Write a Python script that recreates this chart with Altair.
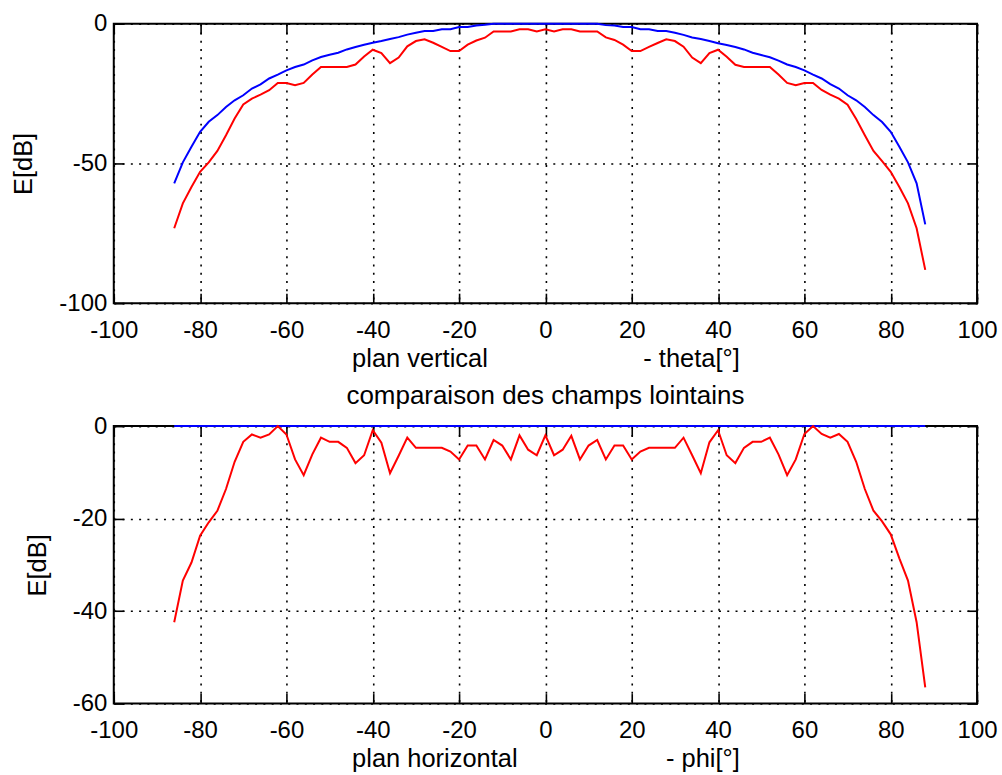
import altair as alt
import pandas as pd

# angles (degrees), sampled every 2 degrees
angles = list(range(-86, 89, 2))

# upper panel: vertical plane - theta
vert_blue = [
    -57.1, -49.6, -44.0, -38.7, -35.1, -32.7, -29.8, -27.4, -25.6, -23.2,
    -21.7, -19.6, -18.2, -16.7, -15.5, -14.6, -13.1, -11.9, -11.1, -10.4,
    -9.2, -8.3, -7.5, -6.8, -6.2, -5.5, -4.8, -3.9, -3.2, -2.6,
    -2.6, -2.0, -2.0, -1.2, -1.2, -0.6, -0.4, 0.0, 0.0, 0.0,
    0.0, 0.0, 0.0, 0.0, 0.0, 0.0, 0.0, 0.0, 0.0, 0.0,
    -0.5, -0.6, -1.2, -1.2, -2.0, -2.0, -2.6, -2.6, -3.2, -4.0,
    -4.9, -5.5, -6.2, -7.0, -7.6, -8.3, -9.2, -10.4, -11.2, -12.0,
    -13.2, -14.6, -15.5, -16.7, -18.2, -19.6, -21.6, -23.2, -25.6, -27.4,
    -29.8, -32.7, -35.2, -38.7, -44.0, -49.6, -57.1, -71.8,
]
vert_red = [
    -73.2, -64.3, -58.4, -53.0, -49.6, -45.5, -39.9, -33.9, -28.9, -26.8,
    -25.4, -23.8, -21.2, -21.2, -22.0, -21.2, -18.2, -15.5, -15.5, -15.5,
    -15.5, -14.6, -11.7, -9.3, -10.5, -14.1, -12.1, -8.1, -6.2, -5.6,
    -6.8, -8.3, -9.8, -9.8, -7.5, -6.0, -5.0, -2.75, -2.75, -2.75,
    -2.0, -2.0, -2.75, -2.0, -2.75, -2.0, -2.0, -2.75, -2.75, -2.75,
    -4.9, -5.8, -7.5, -9.8, -9.8, -8.3, -6.9, -5.6, -6.2, -8.2,
    -12.1, -14.1, -10.5, -9.3, -11.8, -14.7, -15.5, -15.5, -15.5, -15.5,
    -18.2, -21.2, -22.0, -21.2, -21.2, -23.7, -25.4, -26.8, -29.0, -34.1,
    -39.9, -45.5, -49.2, -53.0, -58.4, -64.3, -73.2, -88.1,
]

# lower panel: horizontal plane - phi
horiz_blue = [0.0] * 88
horiz_red = [
    -42.4, -33.4, -29.5, -23.7, -20.8, -18.3, -13.6, -7.7, -3.4, -1.8,
    -2.5, -1.8, 0.0, -1.8, -7.2, -10.6, -6.1, -2.5, -3.4, -3.4,
    -4.7, -8.0, -6.3, -0.9, -3.6, -10.2, -6.4, -2.5, -4.7, -4.7,
    -4.7, -4.7, -5.5, -7.2, -4.2, -4.2, -7.2, -3.0, -4.2, -7.2,
    -2.0, -5.1, -6.3, -2.0, -6.3, -5.1, -2.1, -7.2, -4.2, -3.0,
    -7.2, -4.2, -4.2, -7.2, -5.5, -4.7, -4.7, -4.7, -4.7, -2.5,
    -6.3, -10.2, -3.5, -0.9, -6.3, -8.0, -4.7, -3.4, -3.4, -2.5,
    -6.1, -10.6, -7.2, -1.7, 0.0, -1.7, -2.5, -1.7, -3.4, -7.7,
    -13.6, -18.3, -20.6, -23.4, -28.6, -33.4, -42.4, -56.5,
]

x_ticks = [-100, -80, -60, -40, -20, 0, 20, 40, 60, 80, 100]
y_ticks_top = [-100, -50, 0]
y_ticks_bot = [-60, -40, -20, 0]

FONT = "Liberation Sans"
NB = "\u00a0"
xtitle_top = "plan vertical" + NB * 22 + "- theta[°]"
xtitle_bot = "plan horizontal" + NB * 21 + "- phi[°]"


def frame(series_b, series_r):
    rows = []
    for a, v in zip(angles, series_b):
        rows.append({"x": a, "E": v, "s": "b"})
    for a, v in zip(angles, series_r):
        rows.append({"x": a, "E": v, "s": "r"})
    return pd.DataFrame(rows)


def panel(df, ydom, yticks, xtitle, h):
    xs = alt.Scale(domain=[-100, 100], nice=False, zero=False)
    ys = alt.Scale(domain=ydom, nice=False, zero=False)
    col = alt.Color("s:N", scale=alt.Scale(domain=["b", "r"], range=["#0000ff", "#ff0000"]), legend=None)
    grid_common = dict(grid=True, gridDash=[2, 6.3], gridColor="black", gridOpacity=1, gridWidth=1.6,
                       ticks=False, domain=False, labelFont=FONT, labelFontSize=24, labelColor="black",
                       labelExpr="'' + datum.value",
                       titleFont=FONT, titleFontSize=25.5, titleFontWeight="normal", titleColor="black")
    main = alt.Chart(df).mark_line(strokeWidth=2, clip=False).encode(
        x=alt.X("x:Q", scale=xs, axis=alt.Axis(values=x_ticks, title=xtitle, labelPadding=15, titlePadding=4.5,
                                              labelFlush=False, labelOverlap=False, **grid_common)),
        y=alt.Y("E:Q", scale=ys, axis=alt.Axis(values=yticks, title="E[dB]", labelPadding=7, titlePadding=22,
                                              labelOverlap=False, **grid_common)),
        color=col,
        detail="s:N",
    )
    tick_common = dict(grid=False, ticks=True, domain=False, labels=False, title=None,
                       tickSize=10, tickWidth=1.6, tickColor="black", offset=-10)
    tick_bl = alt.Chart(df).mark_point(opacity=0).encode(
        x=alt.X("x:Q", scale=xs, axis=alt.Axis(values=x_ticks, orient="bottom", **tick_common)),
        y=alt.Y("E:Q", scale=ys, axis=alt.Axis(values=yticks, orient="left", **tick_common)),
    )
    tick_tr = alt.Chart(df).mark_point(opacity=0).encode(
        x=alt.X("x:Q", scale=xs, axis=alt.Axis(values=x_ticks, orient="top", **tick_common)),
        y=alt.Y("E:Q", scale=ys, axis=alt.Axis(values=yticks, orient="right", **tick_common)),
    )
    return alt.layer(main, tick_bl, tick_tr).resolve_axis(x="independent", y="independent").properties(
        width=865, height=h)


top = panel(frame(vert_blue, vert_red), [-100, 0], y_ticks_top, xtitle_top, 280)
bot = panel(frame(horiz_blue, horiz_red), [-60, 0], y_ticks_bot, xtitle_bot, 278).properties(
    title=alt.TitleParams("comparaison des champs lointains", font=FONT, fontSize=26, fontWeight="normal",
                          color="black", offset=5.3))

chart = alt.vconcat(top, bot, spacing=8.2).properties(
    padding={"left": 10, "top": 10, "right": 3, "bottom": 0},
    background="white",
).configure_view(stroke="black", strokeWidth=2)

chart.save("out.html", embed_options={"renderer": "svg", "actions": False})
